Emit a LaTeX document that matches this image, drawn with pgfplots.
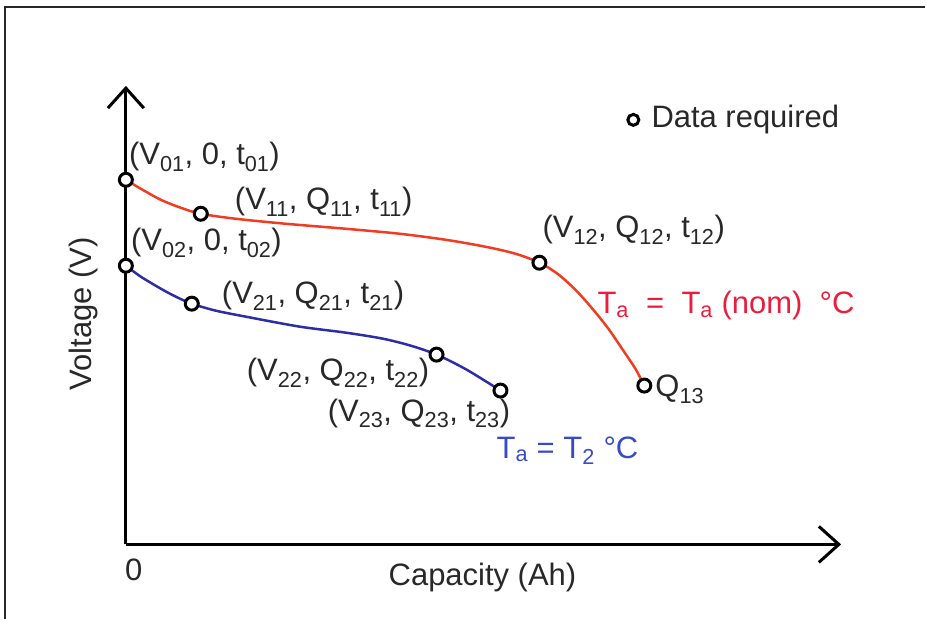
\documentclass[border=0pt]{standalone}
\usepackage{pgfplots}
\pgfplotsset{compat=1.18}
\usepackage{fontspec}
\setmainfont{Liberation Sans}
\usetikzlibrary{arrows.meta}
\definecolor{redc}{RGB}{240,60,35}
\definecolor{redt}{RGB}{232,30,60}
\definecolor{bluec}{RGB}{45,45,165}
\definecolor{bluet}{RGB}{55,75,200}
\definecolor{txt}{RGB}{40,40,40}
\newcommand{\s}[1]{\textsubscript{#1}}
\tikzset{lbl/.style={font=\fontsize{31}{36}\selectfont, inner sep=0pt, text=txt}}
\begin{document}
\begin{tikzpicture}
\begin{axis}[
  scale only axis, width=926pt, height=620pt,
  xmin=-126, xmax=800, ymin=-75, ymax=545,
  hide axis, clip=false,
]
\path (rel axis cs:0,0) rectangle (rel axis cs:1,1);
% frame
\draw[line width=2pt, color=txt] (axis cs:-121,-75) -- (axis cs:-121,538) -- (axis cs:800,538);
% axes
\draw[line width=3pt, -{Straight Barb[length=20pt,width=36pt]}] (axis cs:0,0) -- (axis cs:0,459);
\draw[line width=3pt, -{Straight Barb[length=20pt,width=36pt]}] (axis cs:0,0) -- (axis cs:716,0);
% curves
\addplot[redc, line width=2.5pt, smooth, tension=0.5] coordinates {
 (0,365) (15,356) (35,345) (55,337) (75,331) (110,326) (160,321) (220,316) (274,311)
 (320,305) (360,298) (390,291) (414,282) (432,271) (450,255) (467,236) (483,216) (498,194) (510,176) (519,159)};
\addplot[bluec, line width=2.5pt, smooth, tension=0.5] coordinates {
 (0,279) (15,268) (35,256) (50,248) (66,241) (90,234) (120,228) (174,218) (220,212) (257,206) (285,199) (311,190) (341,175) (375,154)};
% required data points
\addplot[only marks, mark=*, mark size=6.5pt, mark options={fill=white, draw=black, line width=3pt}] coordinates {
 (0,365) (75,331) (414,282) (519,159) (0,279) (66,241) (311,190) (375,154)};
\addplot[only marks, mark=*, mark size=5.5pt, mark options={fill=white, draw=black, line width=3pt}] coordinates {(508,425)};
% labels
\node[lbl, anchor=west] at (axis cs:3,388) {(V\s{01}, 0, t\s{01})};
\node[lbl, anchor=west] at (axis cs:109,343) {(V\s{11}, Q\s{11}, t\s{11})};
\node[lbl, anchor=west] at (axis cs:5,302) {(V\s{02}, 0, t\s{02})};
\node[lbl, anchor=west] at (axis cs:96,249) {(V\s{21}, Q\s{21}, t\s{21})};
\node[lbl, anchor=west] at (axis cs:417,315) {(V\s{12}, Q\s{12}, t\s{12})};
\node[lbl, anchor=west, text=redt] at (axis cs:472,239) {T\s{a}\ \ =\ \ T\s{a}\ (nom)\ \ °C};
\node[lbl, anchor=west] at (axis cs:530,155) {Q\s{13}};
\node[lbl, anchor=west] at (axis cs:121,172) {(V\s{22}, Q\s{22}, t\s{22})};
\node[lbl, anchor=west] at (axis cs:202,131) {(V\s{23}, Q\s{23}, t\s{23})};
\node[lbl, anchor=west, text=bluet] at (axis cs:371,94) {T\s{a} = T\s{2} °C};
\node[lbl, anchor=west] at (axis cs:526,425) {Data required};
\node[lbl, rotate=90] at (axis cs:-42,231) {Voltage (V)};
\node[lbl] at (axis cs:8,-25) {0};
\node[lbl] at (axis cs:357,-33) {Capacity (Ah)};
\end{axis}
\end{tikzpicture}
\end{document}
